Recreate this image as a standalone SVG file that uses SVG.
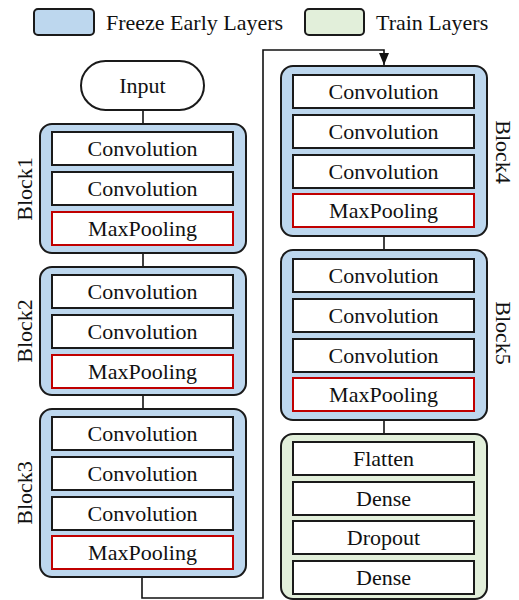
<svg xmlns="http://www.w3.org/2000/svg" width="519" height="600" viewBox="0 0 519 600">
<style>
text{font-family:"Times New Roman","Liberation Serif",Tinos,"DejaVu Serif",serif;font-size:22px;fill:#111;text-anchor:middle}
.blk{fill:#BDD7EE;stroke:#1a1a1a;stroke-width:2}
.trn{fill:#E2EFDA;stroke:#1a1a1a;stroke-width:2}
.lay{fill:#fff;stroke:#1a1a1a;stroke-width:2}
.pool{fill:#fff;stroke:#C00000;stroke-width:2}
.con{fill:none;stroke:#111;stroke-width:1.6}
.lg{text-anchor:start}
</style>
<defs>
<marker id="ah" markerWidth="12" markerHeight="10" refX="12" refY="5" orient="auto" markerUnits="userSpaceOnUse">
<path d="M0,0 L12,5 L0,10 Z" fill="#111"/>
</marker>
</defs>
<g id="legend">
<rect x="34" y="9" width="60" height="26" rx="4" class="blk"/>
<text x="106" y="30" class="lg">Freeze Early Layers</text>
<rect x="305" y="9" width="59" height="26" rx="4" class="trn"/>
<text x="376" y="30" class="lg">Train Layers</text>
</g>
<g id="connectors">
<line x1="143" y1="110" x2="143" y2="124" class="con"/>
<line x1="143" y1="253" x2="143" y2="267" class="con"/>
<line x1="143" y1="395" x2="143" y2="409" class="con"/>
<path d="M142,577 V598 H263 V50 H384 V65" class="con" marker-end="url(#ah)"/>
<line x1="384" y1="236" x2="384" y2="250" class="con"/>
<line x1="384" y1="420" x2="384" y2="434" class="con"/>
</g>
<g id="input">
<rect x="81" y="61" width="123" height="49" rx="24.5" fill="#fff" stroke="#1a1a1a" stroke-width="2"/>
<text x="142.5" y="93">Input</text>
</g>
<g id="block1">
<rect x="40" y="124" width="206" height="129" rx="12" class="blk"/>
<rect x="52" y="132" width="181" height="33" class="lay"/><text x="142.5" y="156">Convolution</text>
<rect x="52" y="172" width="181" height="33" class="lay"/><text x="142.5" y="196">Convolution</text>
<rect x="52" y="212" width="181" height="33" class="pool"/><text x="142.5" y="236">MaxPooling</text>
<text transform="translate(31.5,189) rotate(-90)">Block1</text>
</g>
<g id="block2">
<rect x="40" y="267" width="206" height="128" rx="12" class="blk"/>
<rect x="52" y="275" width="181" height="33" class="lay"/><text x="142.5" y="299">Convolution</text>
<rect x="52" y="315" width="181" height="33" class="lay"/><text x="142.5" y="339">Convolution</text>
<rect x="52" y="355" width="181" height="33" class="pool"/><text x="142.5" y="379">MaxPooling</text>
<text transform="translate(31.5,331) rotate(-90)">Block2</text>
</g>
<g id="block3">
<rect x="40" y="409" width="206" height="168" rx="12" class="blk"/>
<rect x="52" y="417" width="181" height="33" class="lay"/><text x="142.5" y="441">Convolution</text>
<rect x="52" y="457" width="181" height="33" class="lay"/><text x="142.5" y="481">Convolution</text>
<rect x="52" y="497" width="181" height="33" class="lay"/><text x="142.5" y="521">Convolution</text>
<rect x="52" y="536" width="181" height="33" class="pool"/><text x="142.5" y="560">MaxPooling</text>
<text transform="translate(31.5,493) rotate(-90)">Block3</text>
</g>
<g id="block4">
<rect x="281" y="66" width="206" height="170" rx="12" class="blk"/>
<rect x="293" y="75" width="181" height="33" class="lay"/><text x="383.5" y="99">Convolution</text>
<rect x="293" y="115" width="181" height="33" class="lay"/><text x="383.5" y="139">Convolution</text>
<rect x="293" y="155" width="181" height="33" class="lay"/><text x="383.5" y="179">Convolution</text>
<rect x="293" y="194" width="181" height="33" class="pool"/><text x="383.5" y="218">MaxPooling</text>
<text transform="translate(495.5,152) rotate(90)">Block4</text>
</g>
<g id="block5">
<rect x="281" y="250" width="206" height="170" rx="12" class="blk"/>
<rect x="293" y="259" width="181" height="33" class="lay"/><text x="383.5" y="283">Convolution</text>
<rect x="293" y="299" width="181" height="33" class="lay"/><text x="383.5" y="323">Convolution</text>
<rect x="293" y="339" width="181" height="33" class="lay"/><text x="383.5" y="363">Convolution</text>
<rect x="293" y="378" width="181" height="33" class="pool"/><text x="383.5" y="402">MaxPooling</text>
<text transform="translate(495.5,333) rotate(90)">Block5</text>
</g>
<g id="head">
<rect x="281" y="434" width="206" height="165" rx="12" class="trn"/>
<rect x="293" y="442" width="181" height="33" class="lay"/><text x="383.5" y="466">Flatten</text>
<rect x="293" y="482" width="181" height="33" class="lay"/><text x="383.5" y="506">Dense</text>
<rect x="293" y="521" width="181" height="33" class="lay"/><text x="383.5" y="545">Dropout</text>
<rect x="293" y="561" width="181" height="33" class="lay"/><text x="383.5" y="585">Dense</text>
</g>
</svg>
